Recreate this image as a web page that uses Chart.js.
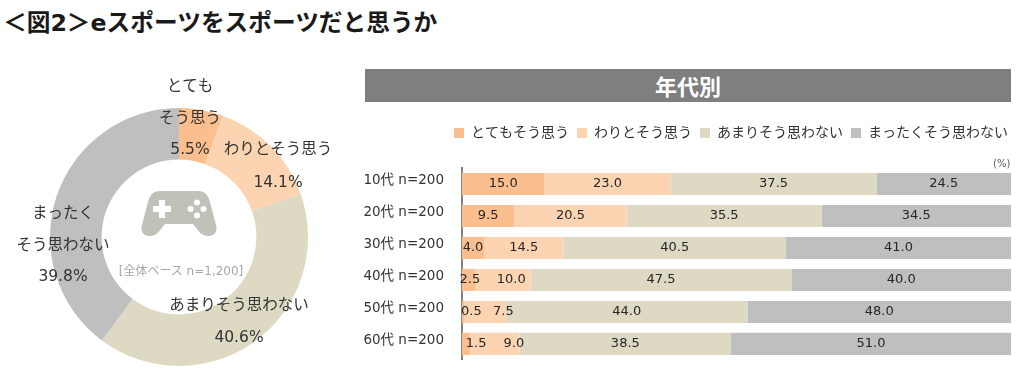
<!DOCTYPE html>
<html lang="ja">
<head>
<meta charset="utf-8">
<script src="https://cdn.jsdelivr.net/npm/chart.js@4"></script>
<style>
  html, body { margin: 0; padding: 0; background: #fff; }
  body { position: relative; width: 1024px; height: 375px; overflow: hidden; font-family: "DejaVu Sans", "Noto Sans CJK JP", sans-serif; }
  canvas { position: absolute; }
  #title { position: absolute; left: 3px; top: 7px; font: bold 23.7px "DejaVu Sans", "Noto Sans CJK JP", sans-serif; color: #1a1a1a; white-space: nowrap; line-height: 32px; }
  #header { position: absolute; left: 365px; top: 69px; width: 646px; height: 33px; background: #7f7f7f; color: #fff; font: bold 22px/32px "Noto Sans CJK JP", sans-serif; text-align: center; }
  #unit { position: absolute; left: 993px; top: 158px; font-size: 10px; color: #595959; }
  #base { position: absolute; left: 81px; top: 261px; width: 200px; text-align: center; font-size: 12px; color: #a6a6a6; }
  #pad { position: absolute; left: 141px; top: 190px; }
</style>
</head>
<body>
<div id="title">＜図2＞eスポーツをスポーツだと思うか</div>
<div id="header">年代別</div>
<canvas id="donutChart" width="358" height="300" style="left:0;top:70px"></canvas>
<canvas id="barChart" width="664" height="273" style="left:360px;top:105px"></canvas>
<div id="unit">(%)</div>
<div id="base">[全体ベース n=1,200]</div>
<svg id="pad" width="77" height="47" viewBox="0 0 77 47">
  <path fill="#c2c1b9" d="M19 1h38c7 0 10 4 12 11l6 23c2 7-2 11-8 11-5 0-8-3-11-7l-4-5H24l-4 5c-3 4-6 7-11 7-6 0-10-4-8-11l6-23C9 5 12 1 19 1z"/>
  <path fill="#fff" d="M18 10h6v6h6v6h-6v6h-6v-6h-6v-6h6z"/>
  <circle cx="56" cy="12.5" r="3" fill="#fff"/>
  <circle cx="56" cy="25.5" r="3" fill="#fff"/>
  <circle cx="49.5" cy="19" r="3" fill="#fff"/>
  <circle cx="62.5" cy="19" r="3" fill="#fff"/>
</svg>
<script>
// 全体
const donutCategories = ["とてもそう思う", "わりとそう思う", "あまりそう思わない", "まったくそう思わない"];
const donutValues = [5.5, 14.1, 40.6, 39.8];
const donutLabels = [
  ["とても", "そう思う", "5.5%"],
  ["わりとそう思う", "14.1%"],
  ["あまりそう思わない", "40.6%"],
  ["まったく", "そう思わない", "39.8%"],
];

// 年代別
const ageLabels = ["10代 n=200", "20代 n=200", "30代 n=200", "40代 n=200", "50代 n=200", "60代 n=200"];
const totemo = [15.0, 9.5, 4.0, 2.5, 0.5, 1.5];
const warito = [23.0, 20.5, 14.5, 10.0, 7.5, 9.0];
const amari = [37.5, 35.5, 40.5, 47.5, 44.0, 38.5];
const mattaku = [24.5, 34.5, 41.0, 40.0, 48.0, 51.0];

const colors = ["#fbbf8f", "#fdd4b1", "#ddd9c3", "#bfbfbf"];
const baseFont = '"DejaVu Sans", "Noto Sans CJK JP", sans-serif';

// ラベル位置 (canvas内)
const donutLabelPos = [
  [190, 17, 31.5],
  [278, 80, 33],
  [239, 236, 32],
  [63, 144, 31.5],
];

// 細いセグメントのラベルは右にずらす
const labelShift = {
  "0-3": 1, "0-4": 8, "0-5": 10,
  "1-3": 8, "1-4": 18, "1-5": 19,
};

const donutText = {
  id: "donutText",
  afterDraw(chart) {
    const c = chart.ctx;
    c.save();
    c.font = "15.5px " + baseFont;
    c.fillStyle = "#333333";
    c.textAlign = "center";
    c.textBaseline = "middle";
    donutLabels.forEach((lines, i) => {
      const [x, y, step] = donutLabelPos[i];
      lines.forEach((line, j) => c.fillText(line, x, y + j * step));
    });
    c.restore();
  },
};

const barText = {
  id: "barText",
  afterDatasetsDraw(chart) {
    const c = chart.ctx;
    c.save();
    c.font = "13px " + baseFont;
    c.fillStyle = "#262626";
    c.textAlign = "center";
    c.textBaseline = "middle";
    chart.data.datasets.forEach((ds, d) => {
      chart.getDatasetMeta(d).data.forEach((bar, i) => {
        const p = bar.getCenterPoint();
        c.fillText(ds.data[i].toFixed(1), p.x + (labelShift[d + "-" + i] || 0), p.y);
      });
    });
    c.restore();
  },
};

// 凡例とグラフの間を空ける、凡例を少し右へ
const legendGap = {
  id: "legendGap",
  beforeInit(chart) {
    const fit = chart.legend.fit;
    chart.legend.fit = function () {
      fit.call(this);
      this.height += 18;
    };
  },
  afterLayout(chart) {
    chart.legend.right += 5;
  },
};

new Chart(document.getElementById("donutChart"), {
  type: "doughnut",
  data: {
    labels: donutCategories,
    datasets: [{ data: donutValues, backgroundColor: colors, borderWidth: 0 }],
  },
  options: {
    responsive: false,
    animation: false,
    cutout: "60%",
    layout: { padding: { top: 38, bottom: 4, left: 50, right: 50 } },
    plugins: { legend: { display: false }, tooltip: { enabled: false } },
  },
  plugins: [donutText],
});

function barSet(label, data, color) {
  return { label, data, backgroundColor: color, categoryPercentage: 1, barPercentage: 0.69 };
}

new Chart(document.getElementById("barChart"), {
  type: "bar",
  data: {
    labels: ageLabels,
    datasets: [
      barSet(donutCategories[0], totemo, colors[0]),
      barSet(donutCategories[1], warito, colors[1]),
      barSet(donutCategories[2], amari, colors[2]),
      barSet(donutCategories[3], mattaku, colors[3]),
    ],
  },
  options: {
    indexAxis: "y",
    responsive: false,
    animation: false,
    layout: { padding: { top: 13, bottom: 3, right: 13 } },
    plugins: {
      tooltip: { enabled: false },
      legend: {
        position: "top",
        align: "end",
        labels: {
          boxWidth: 10,
          boxHeight: 10,
          padding: 8,
          color: "#333333",
          font: { size: 14, family: baseFont },
        },
      },
    },
    scales: {
      x: { stacked: true, min: 0, max: 100, display: false },
      y: {
        stacked: true,
        grid: { display: false },
        border: { color: "#868686", width: 2 },
        ticks: { color: "#333333", padding: 10, labelOffset: -3, font: { size: 13.5, family: baseFont } },
        afterFit(axis) { axis.width = 102; },
      },
    },
  },
  plugins: [barText, legendGap],
});
</script>
</body>
</html>
